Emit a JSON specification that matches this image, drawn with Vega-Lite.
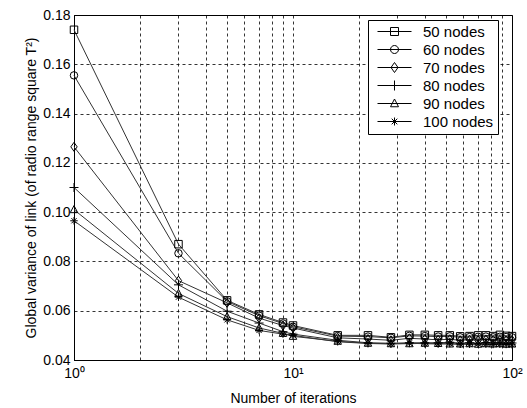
{
  "$schema": "https://vega.github.io/schema/vega-lite/v6.json",
  "width": 438,
  "height": 345,
  "autosize": {"type": "none"},
  "padding": {"left": 74, "top": 15, "right": 15, "bottom": 48},
  "background": "white",
  "config": {
    "font": "Liberation Sans",
    "view": {"stroke": "black", "strokeWidth": 1},
    "axis": {
      "domainColor": "black",
      "gridColor": "black",
      "gridDash": [3, 3],
      "gridOpacity": 1,
      "gridWidth": 0.8,
      "labelColor": "black",
      "titleColor": "black",
      "labelFontSize": 14,
      "titleFontSize": 14,
      "titleFontWeight": "normal",
      "ticks": false
    }
  },
  "datasets": {
    "d": [
      {"iter": 1, "series": "50 nodes", "value": 0.174},
      {"iter": 3, "series": "50 nodes", "value": 0.087},
      {"iter": 5, "series": "50 nodes", "value": 0.0642},
      {"iter": 7, "series": "50 nodes", "value": 0.0585},
      {"iter": 9, "series": "50 nodes", "value": 0.0552},
      {"iter": 10, "series": "50 nodes", "value": 0.054},
      {"iter": 16, "series": "50 nodes", "value": 0.05},
      {"iter": 22, "series": "50 nodes", "value": 0.05},
      {"iter": 28, "series": "50 nodes", "value": 0.0492},
      {"iter": 34, "series": "50 nodes", "value": 0.0502},
      {"iter": 40, "series": "50 nodes", "value": 0.0502},
      {"iter": 46, "series": "50 nodes", "value": 0.05},
      {"iter": 52, "series": "50 nodes", "value": 0.05},
      {"iter": 58, "series": "50 nodes", "value": 0.0496},
      {"iter": 64, "series": "50 nodes", "value": 0.0497},
      {"iter": 70, "series": "50 nodes", "value": 0.05},
      {"iter": 76, "series": "50 nodes", "value": 0.05},
      {"iter": 82, "series": "50 nodes", "value": 0.0497},
      {"iter": 88, "series": "50 nodes", "value": 0.0502},
      {"iter": 94, "series": "50 nodes", "value": 0.0498},
      {"iter": 100, "series": "50 nodes", "value": 0.0497},

      {"iter": 1, "series": "60 nodes", "value": 0.1555},
      {"iter": 3, "series": "60 nodes", "value": 0.0833},
      {"iter": 5, "series": "60 nodes", "value": 0.0638},
      {"iter": 7, "series": "60 nodes", "value": 0.058},
      {"iter": 9, "series": "60 nodes", "value": 0.0548},
      {"iter": 10, "series": "60 nodes", "value": 0.0535},
      {"iter": 16, "series": "60 nodes", "value": 0.0497},
      {"iter": 22, "series": "60 nodes", "value": 0.0495},
      {"iter": 28, "series": "60 nodes", "value": 0.049},
      {"iter": 34, "series": "60 nodes", "value": 0.0498},
      {"iter": 40, "series": "60 nodes", "value": 0.0497},
      {"iter": 46, "series": "60 nodes", "value": 0.0495},
      {"iter": 52, "series": "60 nodes", "value": 0.0496},
      {"iter": 58, "series": "60 nodes", "value": 0.0492},
      {"iter": 64, "series": "60 nodes", "value": 0.0493},
      {"iter": 70, "series": "60 nodes", "value": 0.0494},
      {"iter": 76, "series": "60 nodes", "value": 0.0495},
      {"iter": 82, "series": "60 nodes", "value": 0.0492},
      {"iter": 88, "series": "60 nodes", "value": 0.0494},
      {"iter": 94, "series": "60 nodes", "value": 0.0493},
      {"iter": 100, "series": "60 nodes", "value": 0.0492},

      {"iter": 1, "series": "70 nodes", "value": 0.1265},
      {"iter": 3, "series": "70 nodes", "value": 0.0722},
      {"iter": 5, "series": "70 nodes", "value": 0.0632},
      {"iter": 7, "series": "70 nodes", "value": 0.057},
      {"iter": 9, "series": "70 nodes", "value": 0.054},
      {"iter": 10, "series": "70 nodes", "value": 0.053},
      {"iter": 16, "series": "70 nodes", "value": 0.049},
      {"iter": 22, "series": "70 nodes", "value": 0.0485},
      {"iter": 28, "series": "70 nodes", "value": 0.048},
      {"iter": 34, "series": "70 nodes", "value": 0.0488},
      {"iter": 40, "series": "70 nodes", "value": 0.0485},
      {"iter": 46, "series": "70 nodes", "value": 0.0482},
      {"iter": 52, "series": "70 nodes", "value": 0.0484},
      {"iter": 58, "series": "70 nodes", "value": 0.048},
      {"iter": 64, "series": "70 nodes", "value": 0.0482},
      {"iter": 70, "series": "70 nodes", "value": 0.048},
      {"iter": 76, "series": "70 nodes", "value": 0.0483},
      {"iter": 82, "series": "70 nodes", "value": 0.0481},
      {"iter": 88, "series": "70 nodes", "value": 0.0482},
      {"iter": 94, "series": "70 nodes", "value": 0.048},
      {"iter": 100, "series": "70 nodes", "value": 0.0481},

      {"iter": 1, "series": "80 nodes", "value": 0.11},
      {"iter": 3, "series": "80 nodes", "value": 0.0705},
      {"iter": 5, "series": "80 nodes", "value": 0.0598},
      {"iter": 7, "series": "80 nodes", "value": 0.055},
      {"iter": 9, "series": "80 nodes", "value": 0.0515},
      {"iter": 10, "series": "80 nodes", "value": 0.0505},
      {"iter": 16, "series": "80 nodes", "value": 0.048},
      {"iter": 22, "series": "80 nodes", "value": 0.047},
      {"iter": 28, "series": "80 nodes", "value": 0.0468},
      {"iter": 34, "series": "80 nodes", "value": 0.047},
      {"iter": 40, "series": "80 nodes", "value": 0.047},
      {"iter": 46, "series": "80 nodes", "value": 0.047},
      {"iter": 52, "series": "80 nodes", "value": 0.0472},
      {"iter": 58, "series": "80 nodes", "value": 0.0468},
      {"iter": 64, "series": "80 nodes", "value": 0.047},
      {"iter": 70, "series": "80 nodes", "value": 0.0468},
      {"iter": 76, "series": "80 nodes", "value": 0.0471},
      {"iter": 82, "series": "80 nodes", "value": 0.0469},
      {"iter": 88, "series": "80 nodes", "value": 0.047},
      {"iter": 94, "series": "80 nodes", "value": 0.0468},
      {"iter": 100, "series": "80 nodes", "value": 0.0469},

      {"iter": 1, "series": "90 nodes", "value": 0.101},
      {"iter": 3, "series": "90 nodes", "value": 0.067},
      {"iter": 5, "series": "90 nodes", "value": 0.0576},
      {"iter": 7, "series": "90 nodes", "value": 0.053},
      {"iter": 9, "series": "90 nodes", "value": 0.0508},
      {"iter": 10, "series": "90 nodes", "value": 0.0496},
      {"iter": 16, "series": "90 nodes", "value": 0.0476},
      {"iter": 22, "series": "90 nodes", "value": 0.0468},
      {"iter": 28, "series": "90 nodes", "value": 0.0466},
      {"iter": 34, "series": "90 nodes", "value": 0.0466},
      {"iter": 40, "series": "90 nodes", "value": 0.0468},
      {"iter": 46, "series": "90 nodes", "value": 0.0467},
      {"iter": 52, "series": "90 nodes", "value": 0.0465},
      {"iter": 58, "series": "90 nodes", "value": 0.0465},
      {"iter": 64, "series": "90 nodes", "value": 0.0466},
      {"iter": 70, "series": "90 nodes", "value": 0.0464},
      {"iter": 76, "series": "90 nodes", "value": 0.0466},
      {"iter": 82, "series": "90 nodes", "value": 0.0465},
      {"iter": 88, "series": "90 nodes", "value": 0.0466},
      {"iter": 94, "series": "90 nodes", "value": 0.0464},
      {"iter": 100, "series": "90 nodes", "value": 0.0465},

      {"iter": 1, "series": "100 nodes", "value": 0.0965},
      {"iter": 3, "series": "100 nodes", "value": 0.0655},
      {"iter": 5, "series": "100 nodes", "value": 0.0563},
      {"iter": 7, "series": "100 nodes", "value": 0.052},
      {"iter": 9, "series": "100 nodes", "value": 0.0505},
      {"iter": 10, "series": "100 nodes", "value": 0.05},
      {"iter": 16, "series": "100 nodes", "value": 0.0474},
      {"iter": 22, "series": "100 nodes", "value": 0.0467},
      {"iter": 28, "series": "100 nodes", "value": 0.0465},
      {"iter": 34, "series": "100 nodes", "value": 0.0468},
      {"iter": 40, "series": "100 nodes", "value": 0.0466},
      {"iter": 46, "series": "100 nodes", "value": 0.0465},
      {"iter": 52, "series": "100 nodes", "value": 0.0466},
      {"iter": 58, "series": "100 nodes", "value": 0.0464},
      {"iter": 64, "series": "100 nodes", "value": 0.0464},
      {"iter": 70, "series": "100 nodes", "value": 0.0465},
      {"iter": 76, "series": "100 nodes", "value": 0.0464},
      {"iter": 82, "series": "100 nodes", "value": 0.0463},
      {"iter": 88, "series": "100 nodes", "value": 0.0464},
      {"iter": 94, "series": "100 nodes", "value": 0.0463},
      {"iter": 100, "series": "100 nodes", "value": 0.0462}
    ]
  },
  "data": {"name": "d"},
  "encoding": {
    "x": {
      "field": "iter",
      "type": "quantitative",
      "scale": {"type": "log", "domain": [1, 100], "nice": false},
      "axis": {
        "title": "Number of iterations",
        "values": [1, 2, 3, 4, 5, 6, 7, 8, 9, 10, 20, 30, 40, 50, 60, 70, 80, 90, 100],
        "labelExpr": "datum.value == 1 ? '10⁰' : datum.value == 10 ? '10¹' : datum.value == 100 ? '10²' : ''",
        "labelPadding": 6,
        "titlePadding": 11,
        "labelOverlap": false,
        "labelFlush": false
      }
    },
    "y": {
      "field": "value",
      "type": "quantitative",
      "scale": {"domain": [0.04, 0.18], "nice": false, "zero": false},
      "axis": {
        "title": "Global variance of link (of radio range square T²)",
        "values": [0.04, 0.06, 0.08, 0.1, 0.12, 0.14, 0.16, 0.18],
        "format": ".2f",
        "labelPadding": 4,
        "titlePadding": 4
      }
    }
  },
  "layer": [
    {
      "mark": {"type": "line", "color": "#333333", "strokeWidth": 1},
      "encoding": {"detail": {"field": "series"}}
    },
    {
      "mark": {"type": "point", "filled": false, "color": "black", "strokeWidth": 1, "size": 56, "opacity": 1},
      "encoding": {
        "shape": {
          "field": "series",
          "type": "nominal",
          "scale": {
            "domain": ["50 nodes", "60 nodes", "70 nodes", "80 nodes", "90 nodes", "100 nodes"],
            "range": [
              "M-1,-1H1V1H-1Z",
              "circle",
              "M0,-1.2L0.85,0L0,1.2L-0.85,0Z",
              "M-1.2,0H1.2M0,-1.2V1.2",
              "M0,-1.1L1,0.8H-1Z",
              "M-1,0H1M0,-1V1M-0.7,-0.7L0.7,0.7M-0.7,0.7L0.7,-0.7"
            ]
          },
          "legend": null
        }
      }
    },
    {
      "transform": [{"filter": "false"}],
      "mark": {"type": "point", "filled": false, "color": "black", "strokeWidth": 1, "opacity": 1},
      "encoding": {
        "shape": {
          "field": "series",
          "type": "nominal",
          "scale": {
            "domain": ["50 nodes", "60 nodes", "70 nodes", "80 nodes", "90 nodes", "100 nodes"],
            "range": [
              "M-3.4,0H3.4M-0.8,-0.8H0.8V0.8H-0.8Z",
              "M-3.4,0H3.4M0.8,0A0.8,0.8,0,1,1,-0.8,0A0.8,0.8,0,1,1,0.8,0",
              "M-3.4,0H3.4M0,-1L0.7,0L0,1L-0.7,0Z",
              "M-3.4,0H3.4M0,-1V1",
              "M-3.4,0H3.4M0,-0.9L0.8,0.65H-0.8Z",
              "M-3.4,0H3.4M0,-0.8V0.8M-0.56,-0.56L0.56,0.56M-0.56,0.56L0.56,-0.56"
            ]
          },
          "legend": {
            "title": null,
            "orient": "none",
            "legendX": 294,
            "legendY": 5,
            "fillColor": "white",
            "strokeColor": "black",
            "padding": 4,
            "symbolSize": 100,
            "symbolStrokeWidth": 1,
            "symbolStrokeColor": "black",
            "symbolFillColor": "transparent",
            "symbolOpacity": 1,
            "symbolOffset": 15,
            "labelOffset": 21,
            "labelFontSize": 15,
            "labelColor": "black",
            "rowPadding": 2
          }
        }
      }
    }
  ],
  "resolve": {"scale": {"shape": "independent"}}
}
